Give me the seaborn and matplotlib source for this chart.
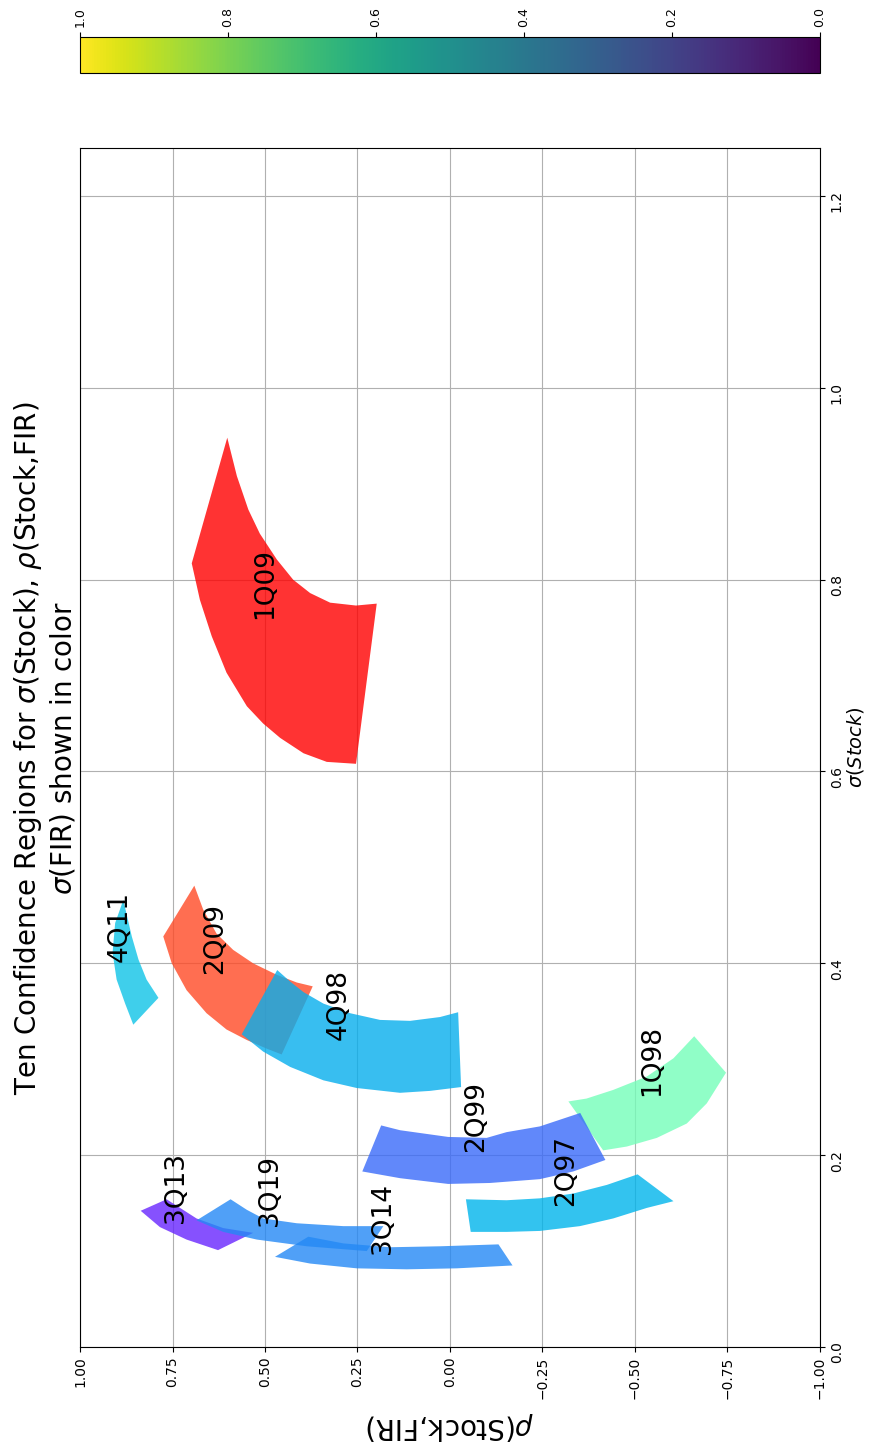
import numpy as np
import matplotlib
matplotlib.use("Agg")
import matplotlib.pyplot as plt
import seaborn as sns
from matplotlib.colors import Normalize
from matplotlib.cm import ScalarMappable

# Quarter labels and the sigma(FIR) level that sets each region's colour
quarters = ["1Q98", "2Q97", "2Q99", "1Q09", "2Q09", "4Q98", "4Q11", "3Q13", "3Q14", "3Q19"]
fir_level = [0.48, 0.25, 0.14, 1.00, 0.905, 0.24, 0.28, 0.05, 0.18, 0.18]

# Outline of each confidence region: rho(Stock,FIR) and sigma(Stock)
rho_1Q98 = [-0.320, -0.414, -0.478, -0.559, -0.640, -0.694, -0.746, -0.660, -0.604, -0.532, -0.441, -0.369]
sig_1Q98 = [0.256, 0.205, 0.209, 0.218, 0.233, 0.254, 0.286, 0.324, 0.301, 0.282, 0.268, 0.259]

rho_2Q97 = [-0.043, -0.056, -0.153, -0.243, -0.351, -0.441, -0.532, -0.604, -0.507, -0.424, -0.333, -0.243, -0.153]
sig_2Q97 = [0.154, 0.120, 0.120, 0.121, 0.126, 0.134, 0.145, 0.152, 0.180, 0.169, 0.160, 0.155, 0.153]

rho_2Q99 = [0.186, 0.135, 0.005, -0.099, -0.153, -0.243, -0.352, -0.420, -0.333, -0.243, -0.108, 0.005, 0.135, 0.237]
sig_2Q99 = [0.231, 0.226, 0.219, 0.218, 0.224, 0.230, 0.244, 0.195, 0.183, 0.175, 0.171, 0.170, 0.176, 0.183]

rho_1Q09 = [0.602, 0.698, 0.676, 0.644, 0.604, 0.549, 0.505, 0.459, 0.396, 0.333, 0.254,
            0.198, 0.254, 0.324, 0.378, 0.424, 0.468, 0.514, 0.545, 0.576]
sig_1Q09 = [0.948, 0.817, 0.779, 0.741, 0.703, 0.668, 0.650, 0.635, 0.619, 0.610, 0.608,
            0.775, 0.773, 0.776, 0.786, 0.800, 0.821, 0.848, 0.873, 0.908]

rho_2Q09 = [0.691, 0.775, 0.752, 0.712, 0.658, 0.604, 0.549, 0.495, 0.455,
            0.371, 0.414, 0.468, 0.532, 0.586, 0.631, 0.667]
sig_2Q09 = [0.481, 0.428, 0.400, 0.372, 0.348, 0.331, 0.320, 0.311, 0.305,
            0.376, 0.380, 0.388, 0.400, 0.414, 0.431, 0.456]

rho_4Q98 = [0.467, 0.563, 0.505, 0.432, 0.342, 0.252, 0.135, 0.054, -0.030,
            -0.022, 0.027, 0.108, 0.189, 0.270, 0.342, 0.396, 0.432]
sig_4Q98 = [0.393, 0.326, 0.308, 0.292, 0.278, 0.270, 0.265, 0.267, 0.271,
            0.349, 0.344, 0.340, 0.341, 0.348, 0.358, 0.370, 0.381]

rho_4Q11 = [0.883, 0.905, 0.912, 0.901, 0.878, 0.856, 0.788, 0.820, 0.842, 0.860]
sig_4Q11 = [0.466, 0.442, 0.411, 0.383, 0.358, 0.336, 0.364, 0.383, 0.404, 0.428]

rho_3Q13 = [0.836, 0.766, 0.685, 0.613, 0.532, 0.627, 0.712, 0.784]
sig_3Q13 = [0.142, 0.154, 0.134, 0.124, 0.119, 0.101, 0.112, 0.125]

rho_3Q14 = [0.473, 0.383, 0.288, 0.162, 0.027, -0.131, -0.169, -0.018, 0.117, 0.252, 0.378]
sig_3Q14 = [0.094, 0.115, 0.108, 0.104, 0.105, 0.107, 0.085, 0.082, 0.081, 0.082, 0.087]

rho_3Q19 = [0.593, 0.685, 0.613, 0.522, 0.387, 0.225, 0.180, 0.288, 0.414, 0.505, 0.549]
sig_3Q19 = [0.154, 0.132, 0.120, 0.112, 0.105, 0.100, 0.126, 0.126, 0.129, 0.134, 0.143]

# Where each quarter's name is written (rho, sigma)
label_rho = [-0.545, -0.315, -0.070, 0.500, 0.635, 0.300, 0.893, 0.740, 0.181, 0.487]
label_sig = [0.299, 0.184, 0.240, 0.796, 0.426, 0.357, 0.438, 0.166, 0.134, 0.163]

outlines = {
    "1Q98": (rho_1Q98, sig_1Q98), "2Q97": (rho_2Q97, sig_2Q97),
    "2Q99": (rho_2Q99, sig_2Q99), "1Q09": (rho_1Q09, sig_1Q09),
    "2Q09": (rho_2Q09, sig_2Q09), "4Q98": (rho_4Q98, sig_4Q98),
    "4Q11": (rho_4Q11, sig_4Q11), "3Q13": (rho_3Q13, sig_3Q13),
    "3Q14": (rho_3Q14, sig_3Q14), "3Q19": (rho_3Q19, sig_3Q19),
}

rho_ticks = [-1.0, -0.75, -0.5, -0.25, 0.0, 0.25, 0.5, 0.75, 1.0]
sigma_ticks = [0.0, 0.2, 0.4, 0.6, 0.8, 1.0, 1.2]
cbar_ticks = [0.0, 0.2, 0.4, 0.6, 0.8, 1.0]

region_cmap = sns.color_palette("rainbow", as_cmap=True)

W, H = 870, 1453
fig = plt.figure(figsize=(W / 100, H / 100), dpi=100)

ax = fig.add_axes([80 / W, 1 - 1347 / H, 740 / W, 1199 / H])
ax.set_xlim(1, -1)
ax.set_ylim(0, 1.25)
ax.set_axisbelow(True)
ax.grid(True, color="#b0b0b0", linewidth=0.8)

for q, lvl in zip(quarters, fir_level):
    r, s = outlines[q]
    ax.fill(r, s, color=region_cmap(lvl), alpha=0.8, linewidth=0)

for q, lr, ls in zip(quarters, label_rho, label_sig):
    ax.text(lr, ls, q, rotation=90, ha="center", va="center", fontsize=19)

ax.set_xticks(rho_ticks)
ax.set_yticks(sigma_ticks)
ax.yaxis.tick_right()
ax.yaxis.set_label_position("right")
ax.tick_params(axis="both", labelsize=10, labelrotation=90)
ax.set_xlabel(r"$\rho$(Stock,FIR)", fontsize=20, rotation=180, labelpad=8)
ax.set_ylabel(r"$\sigma(Stock)$", fontsize=14, rotation=90, labelpad=1)

fig.text(45 / W, 1 - 748 / H,
         "Ten Confidence Regions for $\\sigma$(Stock), $\\rho$(Stock,FIR)\n$\\sigma$(FIR) shown in color",
         rotation=90, ha="center", va="center", fontsize=20, multialignment="center")

cax = fig.add_axes([80 / W, 1 - 73 / H, 740 / W, 36 / H])
sm = ScalarMappable(norm=Normalize(0, 1), cmap="viridis")
cb = fig.colorbar(sm, cax=cax, orientation="horizontal")
cb.set_ticks(cbar_ticks)
cax.invert_xaxis()
cax.xaxis.set_ticks_position("top")
cax.tick_params(axis="x", labelsize=9, labelrotation=90)

fig.savefig("out.png", dpi=100)
